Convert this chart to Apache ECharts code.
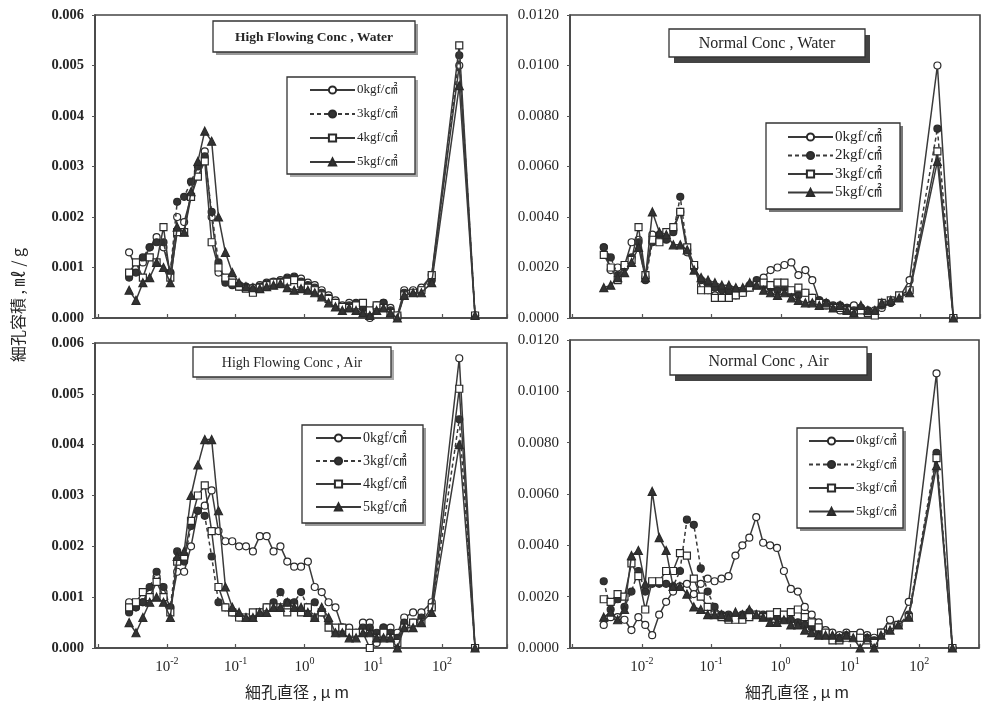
<!DOCTYPE html>
<html>
<head>
<meta charset="utf-8">
<script src="https://cdn.jsdelivr.net/npm/echarts@6/dist/echarts.min.js"></script>
<style>html,body{margin:0;padding:0;background:#fff}#c{width:982px;height:702px}</style>
</head>
<body>
<div id="c"></div>
<script>
// pore diameter, µm (shared x values)
const diameters = [0.00282,0.00355,0.00447,0.00562,0.00708,0.00891,0.0112,0.0141,0.0178,0.0224,
  0.0282,0.0355,0.0447,0.0562,0.0708,0.0891,0.112,0.141,0.178,0.224,
  0.282,0.355,0.447,0.562,0.708,0.891,1.12,1.41,1.78,2.24,
  2.82,3.55,4.47,5.62,7.08,8.91,11.2,14.1,17.8,22.4,
  28.2,38.0,50.1,70.8,178,302];

// High Flowing Conc, Water
const hfWater0 = [0.00130,0.00100,0.00110,0.00140,0.00160,0.00140,0.00090,0.00200,0.00190,0.00240,
  0.00290,0.00330,0.00200,0.00090,0.00075,0.00068,0.00065,0.00062,0.00060,0.00065,
  0.00070,0.00072,0.00075,0.00080,0.00082,0.00078,0.00070,0.00065,0.00055,0.00045,
  0.00035,0.00025,0.00030,0.00020,0.00025,0.00000,0.00020,0.00030,0.00020,0.00005,
  0.00055,0.00055,0.00060,0.00085,0.00500,0.00005];
const hfWater3 = [0.00080,0.00090,0.00120,0.00140,0.00150,0.00150,0.00090,0.00230,0.00240,0.00270,
  0.00300,0.00320,0.00210,0.00110,0.00070,0.00065,0.00062,0.00060,0.00055,0.00062,
  0.00068,0.00070,0.00072,0.00078,0.00080,0.00072,0.00065,0.00060,0.00050,0.00040,
  0.00030,0.00020,0.00025,0.00030,0.00020,0.00010,0.00025,0.00030,0.00015,0.00000,
  0.00050,0.00050,0.00055,0.00075,0.00520,0.00005];
const hfWater4 = [0.00090,0.00110,0.00080,0.00120,0.00110,0.00180,0.00080,0.00170,0.00170,0.00240,
  0.00280,0.00310,0.00150,0.00100,0.00080,0.00070,0.00062,0.00058,0.00050,0.00060,
  0.00065,0.00070,0.00070,0.00072,0.00075,0.00068,0.00060,0.00055,0.00045,0.00038,
  0.00030,0.00022,0.00020,0.00025,0.00030,0.00015,0.00025,0.00020,0.00010,0.00005,
  0.00045,0.00050,0.00055,0.00085,0.00540,0.00005];
const hfWater5 = [0.00055,0.00035,0.00070,0.00080,0.00110,0.00100,0.00070,0.00180,0.00170,0.00250,
  0.00310,0.00370,0.00350,0.00200,0.00130,0.00090,0.00070,0.00062,0.00060,0.00058,
  0.00062,0.00065,0.00068,0.00060,0.00055,0.00058,0.00055,0.00050,0.00042,0.00030,
  0.00022,0.00015,0.00020,0.00015,0.00010,0.00005,0.00015,0.00020,0.00010,0.00000,
  0.00045,0.00050,0.00050,0.00070,0.00460,0.00005];

// Normal Conc, Water
const nWater0 = [0.0028,0.0019,0.0020,0.0021,0.0030,0.0031,0.0016,0.0033,0.0031,0.0032,
  0.0035,0.0042,0.0026,0.0020,0.0013,0.0011,0.0009,0.0008,0.0008,0.0009,
  0.0010,0.0012,0.0014,0.0016,0.0019,0.0020,0.0021,0.0022,0.0017,0.0019,
  0.0015,0.0007,0.0005,0.0004,0.0003,0.0004,0.0005,0.0004,0.0002,0.0003,
  0.0004,0.0006,0.0008,0.0015,0.0100,0.0000];
const nWater2 = [0.0028,0.0024,0.0017,0.0020,0.0024,0.0030,0.0015,0.0030,0.0033,0.0031,
  0.0034,0.0048,0.0027,0.0020,0.0015,0.0013,0.0012,0.0011,0.0010,0.0011,
  0.0010,0.0013,0.0015,0.0013,0.0012,0.0011,0.0012,0.0010,0.0009,0.0010,
  0.0008,0.0007,0.0006,0.0005,0.0005,0.0004,0.0003,0.0004,0.0003,0.0002,
  0.0005,0.0006,0.0008,0.0011,0.0075,0.0000];
const nWater3 = [0.0025,0.0020,0.0015,0.0021,0.0023,0.0036,0.0017,0.0031,0.0030,0.0034,
  0.0036,0.0042,0.0028,0.0021,0.0011,0.0011,0.0008,0.0008,0.0008,0.0009,
  0.0010,0.0012,0.0013,0.0014,0.0013,0.0014,0.0014,0.0011,0.0012,0.0010,
  0.0008,0.0006,0.0005,0.0004,0.0004,0.0003,0.0002,0.0003,0.0002,0.0001,
  0.0006,0.0007,0.0009,0.0011,0.0066,0.0000];
const nWater5 = [0.0012,0.0013,0.0016,0.0018,0.0022,0.0028,0.0016,0.0042,0.0034,0.0033,
  0.0029,0.0029,0.0027,0.0019,0.0016,0.0015,0.0014,0.0013,0.0013,0.0012,
  0.0012,0.0014,0.0013,0.0011,0.0010,0.0009,0.0010,0.0008,0.0007,0.0006,
  0.0006,0.0005,0.0006,0.0004,0.0005,0.0003,0.0002,0.0005,0.0003,0.0003,
  0.0006,0.0007,0.0008,0.0010,0.0062,0.0000];

// High Flowing Conc, Air
const hfAir0 = [0.0009,0.0008,0.0009,0.0011,0.0014,0.0011,0.0008,0.0015,0.0015,0.0020,
  0.0027,0.0028,0.0031,0.0023,0.0021,0.0021,0.0020,0.0020,0.0019,0.0022,
  0.0022,0.0019,0.0020,0.0017,0.0016,0.0016,0.0017,0.0012,0.0011,0.0009,
  0.0008,0.0004,0.0004,0.0003,0.0005,0.0005,0.0001,0.0004,0.0004,0.0003,
  0.0006,0.0007,0.0007,0.0009,0.0057,0.0000];
const hfAir3 = [0.0007,0.0008,0.0009,0.0012,0.0015,0.0012,0.0008,0.0019,0.0017,0.0024,
  0.0027,0.0026,0.0018,0.0009,0.0008,0.0007,0.0006,0.0006,0.0006,0.0007,
  0.0008,0.0009,0.0011,0.0009,0.0009,0.0011,0.0008,0.0009,0.0007,0.0005,
  0.0003,0.0004,0.0003,0.0003,0.0004,0.0004,0.0003,0.0004,0.0003,0.0002,
  0.0005,0.0005,0.0006,0.0008,0.0045,0.0000];
const hfAir4 = [0.0008,0.0009,0.0011,0.0010,0.0013,0.0010,0.0007,0.0017,0.0018,0.0025,
  0.0030,0.0032,0.0023,0.0012,0.0008,0.0007,0.0006,0.0006,0.0007,0.0007,
  0.0008,0.0008,0.0008,0.0007,0.0008,0.0007,0.0008,0.0006,0.0007,0.0004,
  0.0004,0.0004,0.0003,0.0003,0.0003,0.0000,0.0002,0.0003,0.0002,0.0001,
  0.0004,0.0005,0.0005,0.0008,0.0051,0.0000];
const hfAir5 = [0.0005,0.0003,0.0006,0.0009,0.0010,0.0009,0.0006,0.0018,0.0019,0.0030,
  0.0036,0.0041,0.0041,0.0027,0.0012,0.0008,0.0007,0.0006,0.0006,0.0007,
  0.0007,0.0008,0.0008,0.0009,0.0008,0.0008,0.0007,0.0006,0.0008,0.0006,
  0.0003,0.0003,0.0002,0.0002,0.0003,0.0003,0.0002,0.0002,0.0002,0.0000,
  0.0004,0.0004,0.0005,0.0007,0.0040,0.0000];

// Normal Conc, Air
const nAir0 = [0.0009,0.0012,0.0012,0.0011,0.0007,0.0012,0.0009,0.0005,0.0013,0.0018,
  0.0022,0.0024,0.0025,0.0021,0.0025,0.0027,0.0026,0.0027,0.0028,0.0036,
  0.0040,0.0043,0.0051,0.0041,0.0040,0.0039,0.0030,0.0023,0.0022,0.0016,
  0.0013,0.0010,0.0007,0.0006,0.0005,0.0006,0.0005,0.0006,0.0005,0.0004,
  0.0006,0.0011,0.0009,0.0018,0.0107,0.0000];
const nAir2 = [0.0026,0.0015,0.0019,0.0016,0.0022,0.0030,0.0022,0.0025,0.0025,0.0025,
  0.0024,0.0030,0.0050,0.0048,0.0031,0.0022,0.0016,0.0013,0.0013,0.0012,
  0.0013,0.0014,0.0013,0.0013,0.0012,0.0012,0.0011,0.0011,0.0010,0.0009,
  0.0008,0.0006,0.0005,0.0004,0.0004,0.0005,0.0005,0.0004,0.0004,0.0003,
  0.0005,0.0008,0.0009,0.0013,0.0076,0.0000];
const nAir3 = [0.0019,0.0018,0.0021,0.0020,0.0033,0.0028,0.0015,0.0026,0.0026,0.0030,
  0.0030,0.0037,0.0036,0.0027,0.0020,0.0016,0.0013,0.0012,0.0011,0.0011,
  0.0011,0.0012,0.0013,0.0012,0.0013,0.0014,0.0013,0.0014,0.0015,0.0012,
  0.0010,0.0008,0.0006,0.0003,0.0003,0.0004,0.0005,0.0004,0.0003,0.0002,
  0.0006,0.0008,0.0009,0.0012,0.0074,0.0000];
const nAir5 = [0.0012,0.0014,0.0011,0.0015,0.0036,0.0038,0.0025,0.0061,0.0043,0.0038,
  0.0024,0.0024,0.0021,0.0016,0.0015,0.0013,0.0013,0.0013,0.0012,0.0014,
  0.0013,0.0015,0.0013,0.0012,0.0010,0.0010,0.0011,0.0009,0.0009,0.0007,
  0.0006,0.0005,0.0005,0.0005,0.0004,0.0005,0.0004,0.0000,0.0004,0.0000,
  0.0005,0.0007,0.0009,0.0012,0.0071,0.0000];

const panelTitles = ['High Flowing Conc , Water', 'Normal Conc , Water', 'High Flowing Conc , Air', 'Normal Conc , Air'];
const xTickExponents = [-2, -1, 0, 1, 2];
const yAxisTitle = '細孔容積 , ㎖ / g';
const xAxisTitle = '細孔直径 , μ m';

const LINE = '#3a3a3a', EDGE = '#2a2a2a', TXT = '#262626';
const SERIF = '"Liberation Serif","DejaVu Serif",serif';
const SERIF_CJK = '"Liberation Serif","Noto Sans CJK JP",serif';
const CJK = '"Noto Sans CJK JP","Noto Sans CJK SC",sans-serif';

const markerStyles = {
  openCircle:  {symbol: 'circle',   size: 7, fill: '#fff', dash: 'solid'},
  dotCircle:   {symbol: 'circle',   size: 7, fill: '#333', dash: [4, 3]},
  openSquare:  {symbol: 'rect',     size: 7, fill: '#fff', dash: 'solid'},
  triangle:    {symbol: 'triangle', size: 8, fill: '#333', dash: 'solid'}
};

const panels = [
  {tag: 'a', grid: {left: 95, top: 15, width: 412, height: 303}, xmin: 0.0009, xmax: 880, ymax: 0.006, yint: 0.001, dec: 3, bold: true, showX: false,
   series: [['0kgf/㎠', hfWater0, 'openCircle'], ['3kgf/㎠', hfWater3, 'dotCircle'], ['4kgf/㎠', hfWater4, 'openSquare'], ['5kgf/㎠', hfWater5, 'triangle']],
   frame: {x: 287, y: 77, w: 128, h: 97, sc: '#aaa'},
   legend: {left: 287, top: 77, padding: [6, 20, 6, 22], itemGap: 10, fontSize: 13, lineHeight: 14}},
  {tag: 'b', grid: {left: 570, top: 15, width: 410, height: 303}, xmin: 0.00092, xmax: 730, ymax: 0.012, yint: 0.002, dec: 4, bold: false, showX: false,
   series: [['0kgf/㎠', nWater0, 'openCircle'], ['2kgf/㎠', nWater2, 'dotCircle'], ['3kgf/㎠', nWater3, 'openSquare'], ['5kgf/㎠', nWater5, 'triangle']],
   frame: {x: 766, y: 123, w: 134, h: 86, sc: '#777'},
   legend: {left: 766, top: 123, padding: [6, 20, 6, 21], itemGap: 2.5, fontSize: 15, lineHeight: 16}},
  {tag: 'c', grid: {left: 95, top: 343, width: 412, height: 305}, xmin: 0.0009, xmax: 880, ymax: 0.006, yint: 0.001, dec: 3, bold: true, showX: true,
   series: [['0kgf/㎠', hfAir0, 'openCircle'], ['3kgf/㎠', hfAir3, 'dotCircle'], ['4kgf/㎠', hfAir4, 'openSquare'], ['5kgf/㎠', hfAir5, 'triangle']],
   frame: {x: 302, y: 425, w: 121, h: 98, sc: '#999'},
   legend: {left: 302, top: 425, padding: [6, 15, 6, 13], itemGap: 9, fontSize: 14, lineHeight: 14}},
  {tag: 'd', grid: {left: 570, top: 340, width: 410, height: 308}, xmin: 0.00092, xmax: 730, ymax: 0.012, yint: 0.002, dec: 4, bold: false, showX: true,
   series: [['0kgf/㎠', nAir0, 'openCircle'], ['2kgf/㎠', nAir2, 'dotCircle'], ['3kgf/㎠', nAir3, 'openSquare'], ['5kgf/㎠', nAir5, 'triangle']],
   frame: {x: 797, y: 428, w: 106, h: 100, sc: '#888'},
   legend: {left: 797, top: 428, padding: [6, 10, 6, 11], itemGap: 9.5, fontSize: 13, lineHeight: 14}}
];

function xLabel(v) {
  const l = Math.log10(v);
  const e = Math.round(l);
  if (Math.abs(l - e) > 1e-6 || xTickExponents.indexOf(e) < 0) return '';
  return '{b|10}{s|' + e + '}';
}

const option = {
  animation: false,
  backgroundColor: '#fff',
  grid: [], xAxis: [], yAxis: [], series: [], legend: [], graphic: []
};

panels.forEach((p, i) => {
  option.grid.push(Object.assign({show: true, borderColor: '#444', borderWidth: 1.6, backgroundColor: 'transparent'}, p.grid));
  option.xAxis.push({
    type: 'log', logBase: 10, gridIndex: i, min: p.xmin, max: p.xmax,
    axisLine: {show: true, lineStyle: {color: '#444', width: 1.6}},
    axisTick: {show: true, inside: true, length: 4, lineStyle: {color: '#555', width: 1.2}},
    minorTick: {show: false}, splitLine: {show: false}, minorSplitLine: {show: false},
    axisLabel: {show: p.showX, formatter: xLabel, margin: 6, color: TXT,
      rich: {b: {fontSize: 15, fontFamily: SERIF, color: TXT, padding: [6, 0, 0, 0]},
             s: {fontSize: 10, fontFamily: SERIF, color: TXT, padding: [0, 0, 6, 0]}}}
  });
  option.yAxis.push({
    type: 'value', gridIndex: i, min: 0, max: p.ymax, interval: p.yint,
    axisLine: {show: true, lineStyle: {color: '#444', width: 1.6}},
    axisTick: {show: true, inside: false, length: 3, lineStyle: {color: '#555'}},
    splitLine: {show: false},
    axisLabel: {formatter: v => v.toFixed(p.dec), margin: 11, color: TXT,
      fontFamily: SERIF, fontSize: p.bold ? 14.5 : 15, fontWeight: p.bold ? 'bold' : 'normal'}
  });
  const names = [];
  p.series.forEach(([name, vals, key], k) => {
    const st = markerStyles[key];
    const full = name + '|' + p.tag;
    names.push(full);
    option.series.push({
      type: 'line', name: full, xAxisIndex: i, yAxisIndex: i,
      data: diameters.map((d, j) => [d, vals[j]]),
      symbol: st.symbol, symbolSize: st.size, showSymbol: true, showAllSymbol: true,
      lineStyle: {color: LINE, width: 1.5, type: st.dash},
      itemStyle: {color: st.fill, borderColor: EDGE, borderWidth: 1.2},
      emphasis: {disabled: true}, z: 2 + k
    });
  });
  const f = p.frame;
  option.graphic.push({type: 'rect', z: 150, shape: {x: f.x + 3, y: f.y + 3, width: f.w, height: f.h}, style: {fill: f.sc}});
  option.graphic.push({type: 'rect', z: 151, shape: {x: f.x, y: f.y, width: f.w, height: f.h}, style: {fill: '#fff', stroke: '#333', lineWidth: 1.3}});
  option.legend.push({
    orient: 'vertical', left: p.legend.left, top: p.legend.top, padding: p.legend.padding, z: 200,
    itemGap: p.legend.itemGap, itemWidth: 45, itemHeight: 9, selectedMode: false,
    data: names, formatter: n => n.split('|')[0],
    textStyle: {fontFamily: SERIF_CJK, fontSize: p.legend.fontSize, lineHeight: p.legend.lineHeight, color: TXT, padding: [0, 0, 0, -3]},
    backgroundColor: 'transparent', borderWidth: 0
  });
});

// title boxes
const boxes = [
  {x: 213, y: 21, w: 202, h: 31, sx: 3, sy: 3, sc: '#999', font: 'bold 13.5px ' + SERIF},
  {x: 669, y: 29, w: 196, h: 28, sx: 5, sy: 6, sc: '#444', font: '16px ' + SERIF},
  {x: 193, y: 347, w: 198, h: 30, sx: 3, sy: 3, sc: '#aaa', font: '14px ' + SERIF},
  {x: 670, y: 347, w: 197, h: 28, sx: 5, sy: 6, sc: '#444', font: '16px ' + SERIF}
];
boxes.forEach((b, i) => {
  option.graphic.push({type: 'rect', shape: {x: b.x + b.sx, y: b.y + b.sy, width: b.w, height: b.h}, style: {fill: b.sc}, z: 100});
  option.graphic.push({type: 'rect', shape: {x: b.x, y: b.y, width: b.w, height: b.h}, style: {fill: '#fff', stroke: '#333', lineWidth: 1.3}, z: 101});
  option.graphic.push({type: 'text', x: b.x + b.w / 2, y: b.y + b.h / 2 + 1, z: 102,
    style: {text: panelTitles[i], font: b.font, fill: TXT, textAlign: 'center', textVerticalAlign: 'middle'}});
});
option.graphic.push({type: 'text', x: 18, y: 305, rotation: Math.PI / 2, z: 102,
  style: {text: yAxisTitle, font: '16px ' + CJK, fill: TXT, textAlign: 'center', textVerticalAlign: 'middle'}});
option.graphic.push({type: 'text', x: 297, y: 692, z: 102,
  style: {text: xAxisTitle, font: '16px ' + CJK, fill: TXT, textAlign: 'center', textVerticalAlign: 'middle'}});
option.graphic.push({type: 'text', x: 797, y: 692, z: 102,
  style: {text: xAxisTitle, font: '16px ' + CJK, fill: TXT, textAlign: 'center', textVerticalAlign: 'middle'}});

const chart = echarts.init(document.getElementById('c'), null, {renderer: 'canvas'});
chart.setOption(option);
</script>
</body>
</html>
